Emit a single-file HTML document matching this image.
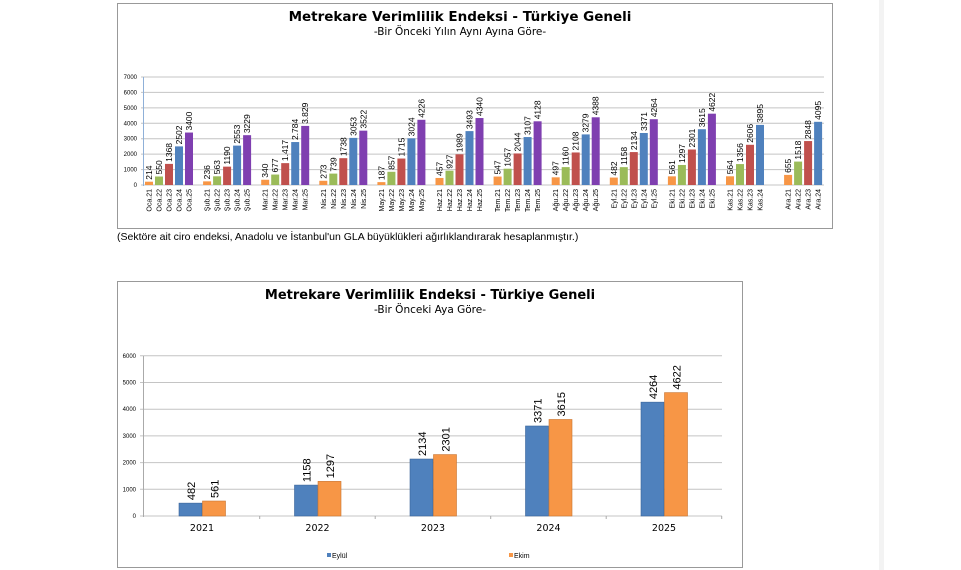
<!DOCTYPE html>
<html><head><meta charset="utf-8"><style>
body{margin:0;background:#fff;width:961px;height:570px;overflow:hidden}
svg{display:block;font-family:"Liberation Sans","DejaVu Sans",sans-serif}
</style></head><body>
<svg id="s" width="961" height="570" xmlns="http://www.w3.org/2000/svg">
<rect x="879" y="0" width="5" height="570" fill="#f3f3f3"/>
<rect x="117.5" y="3.5" width="715" height="225" fill="#fff" stroke="#999" stroke-width="1"/>
<text x="460" y="21" text-anchor="middle" font-size="13.5" font-weight="bold" font-family="DejaVu Sans,sans-serif">Metrekare Verimlilik Endeksi - Türkiye Geneli</text>
<text x="460" y="35" text-anchor="middle" font-size="10.5" font-family="DejaVu Sans,sans-serif">-Bir Önceki Yılın Aynı Ayına Göre-</text>
<text x="117" y="240" font-size="10.5">(Sektöre ait ciro endeksi, Anadolu ve İstanbul'un GLA büyüklükleri ağırlıklandırarak hesaplanmıştır.)</text>
<rect x="117.5" y="281.5" width="625" height="286" fill="#fff" stroke="#999" stroke-width="1"/>
<text x="430" y="299" text-anchor="middle" font-size="13" font-weight="bold" font-family="DejaVu Sans,sans-serif">Metrekare Verimlilik Endeksi - Türkiye Geneli</text>
<text x="430" y="313" text-anchor="middle" font-size="10.5" font-family="DejaVu Sans,sans-serif">-Bir Önceki Aya Göre-</text>
<g id="g"></g>
</svg>
<script>
var g=document.getElementById('g'),h='';
var C=['#F79646','#9BBB59','#C0504D','#4F81BD','#7F3FB0'];
for(var k=0;k<=7;k++){var y=185-k*15.43;h+='<line x1="141" x2="824" y1="'+y+'" y2="'+y+'" stroke="#c4c4c4"/>';h+='<text x="137" y="'+(y+2)+'" text-anchor="end" font-size="6">'+k*1000+'</text>';}
h+='<line x1="143.5" x2="143.5" y1="77" y2="186" stroke="#8fb0d8"/>';
var M=['Oca','Şub','Mar','Nis','May','Haz','Tem','Ağu','Eyl','Eki','Kas','Ara'];
var D=[[214,550,1368,2502,3400],[236,563,1190,2553,3229],[340,677,1417,2784,3829],[273,739,1738,3053,3522],[187,857,1715,3024,4226],[457,927,1989,3493,4340],[547,1057,2044,3107,4128],[497,1160,2108,3279,4388],[482,1158,2134,3371,4264],[561,1297,2301,3615,4622],[564,1356,2606,3895],[655,1518,2848,4095]];
for(var m=0;m<12;m++){for(var i=0;i<D[m].length;i++){var v=D[m][i],x=145+m*58.1+i*10,t=185-v*0.01543;
h+='<rect x="'+x+'" y="'+t+'" width="8" height="'+(185-t)+'" fill="'+C[i]+'"/>';
var lab=(m==2&&i>=2)?(v/1000).toFixed(3):v;
h+='<text transform="translate('+(x+7)+','+(t-2)+') rotate(-90)" font-size="8.5">'+lab+'</text>';
h+='<text transform="translate('+(x+6.5)+',189) rotate(-90)" text-anchor="end" font-size="7">'+M[m]+'.'+(21+i)+'</text>';}}
for(var k=0;k<=6;k++){var y=516-k*26.7;h+='<line x1="140" x2="722" y1="'+y+'" y2="'+y+'" stroke="#c4c4c4"/>';h+='<text x="136" y="'+(y+2)+'" text-anchor="end" font-size="6">'+k*1000+'</text>';}
h+='<line x1="143.5" x2="143.5" y1="356" y2="517" stroke="#aaa"/>';
var B=[[482,561],[1158,1297],[2134,2301],[3371,3615],[4264,4622]];
for(var k=0;k<5;k++){var c=202+k*115.5;
h+='<line x1="'+(c+57.7)+'" x2="'+(c+57.7)+'" y1="516" y2="519" stroke="#aaa"/>';
h+='<text x="'+c+'" y="531" text-anchor="middle" font-size="9.5" font-family="DejaVu Sans,sans-serif">'+(2021+k)+'</text>';
for(var j=0;j<2;j++){var v=B[k][j],t=516-v*0.0267,x=j?c+0.5:c-23;
h+='<rect x="'+x+'" y="'+t+'" width="23" height="'+(516-t)+'" fill="'+(j?'#F79646':'#4F81BD')+'" stroke="'+(j?'#c87430':'#3a659a')+'" stroke-width="0.6"/>';
h+='<text transform="translate('+(x+16)+','+(t-3)+') rotate(-90)" font-size="11">'+v+'</text>';}}
h+='<rect x="327" y="553" width="4" height="4" fill="#4F81BD"/><text x="332" y="558" font-size="7">Eylül</text>';
h+='<rect x="509" y="553" width="4" height="4" fill="#F79646"/><text x="514" y="558" font-size="7">Ekim</text>';
g.innerHTML=h;
</script>
</body></html>
